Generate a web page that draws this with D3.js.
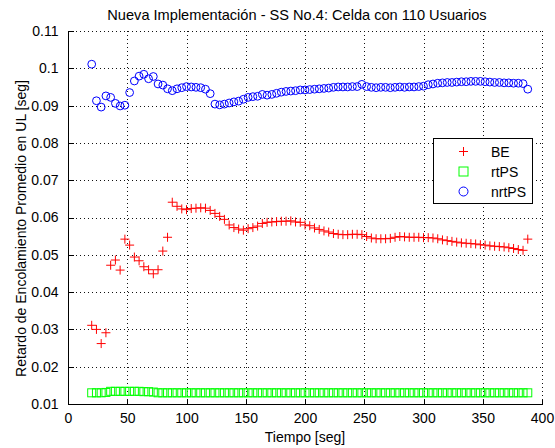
<!DOCTYPE html>
<html>
<head>
<meta charset="utf-8">
<script src="https://cdn.jsdelivr.net/npm/d3@7"></script>
<style>
  body { margin: 0; background: #fff; }
  text { font-family: "Liberation Sans", Arial, Helvetica, sans-serif; }
</style>
</head>
<body>
<svg id="chart" width="555" height="448"></svg>
<script>
// Tiempo de simulación [seg]
const tiempo = [
  20, 24, 28, 32, 36, 40, 44, 48, 52, 56, 60, 64, 68, 72, 76, 80, 84, 88, 92, 96,
  100, 104, 108, 112, 116, 120, 124, 128, 132, 136, 140, 144, 148, 152, 156, 160,
  164, 168, 172, 176, 180, 184, 188, 192, 196, 200, 204, 208, 212, 216, 220, 224,
  228, 232, 236, 240, 244, 248, 252, 256, 260, 264, 268, 272, 276, 280, 284, 288,
  292, 296, 300, 304, 308, 312, 316, 320, 324, 328, 332, 336, 340, 344, 348, 352,
  356, 360, 364, 368, 372, 376, 380, 384, 388
];

// Retardo promedio de encolamiento en UL [seg] por clase de servicio
const retardoBE = [
  0.0311, 0.0300, 0.0262, 0.0291, 0.0472, 0.0486, 0.0459, 0.0542, 0.0526, 0.0494,
  0.0484, 0.0468, 0.0460, 0.0449, 0.0460, 0.0510, 0.0547, 0.0641, 0.0630, 0.0623,
  0.0621, 0.0624, 0.0625, 0.0626, 0.0625, 0.0619, 0.0611, 0.0603, 0.0595, 0.0580,
  0.0573, 0.0569, 0.0566, 0.0570, 0.0573, 0.0577, 0.0584, 0.0587, 0.0588, 0.0589,
  0.0590, 0.0590, 0.0591, 0.0588, 0.0587, 0.0580, 0.0578, 0.0572, 0.0568, 0.0564,
  0.0561, 0.0557, 0.0555, 0.0554, 0.0554, 0.0555, 0.0555, 0.0554, 0.0549, 0.0545,
  0.0543, 0.0543, 0.0543, 0.0544, 0.0547, 0.0549, 0.0548, 0.0547, 0.0547, 0.0547,
  0.0546, 0.0546, 0.0545, 0.0543, 0.0540, 0.0538, 0.0536, 0.0534, 0.0532, 0.0531,
  0.0530, 0.0529, 0.0527, 0.0526, 0.0524, 0.0523, 0.0522, 0.0521, 0.0519, 0.0517,
  0.0514, 0.0512, 0.0542
];

const retardoRtPS = [
  0.0130, 0.0130, 0.0130, 0.0131, 0.0134, 0.0134, 0.0134, 0.0134, 0.0134, 0.0134,
  0.0134, 0.0133, 0.0133, 0.0132, 0.0130, 0.0130, 0.0130, 0.0130, 0.0130, 0.0130,
  0.0130, 0.0130, 0.0130, 0.0130, 0.0130, 0.0130, 0.0130, 0.0130, 0.0130, 0.0130,
  0.0130, 0.0130, 0.0130, 0.0130, 0.0130, 0.0130, 0.0130, 0.0130, 0.0130, 0.0130,
  0.0130, 0.0130, 0.0130, 0.0130, 0.0130, 0.0130, 0.0130, 0.0130, 0.0130, 0.0130,
  0.0130, 0.0130, 0.0130, 0.0130, 0.0130, 0.0130, 0.0130, 0.0130, 0.0130, 0.0130,
  0.0130, 0.0130, 0.0130, 0.0130, 0.0130, 0.0130, 0.0130, 0.0130, 0.0130, 0.0130,
  0.0130, 0.0130, 0.0130, 0.0130, 0.0130, 0.0130, 0.0130, 0.0130, 0.0130, 0.0130,
  0.0130, 0.0130, 0.0130, 0.0130, 0.0130, 0.0130, 0.0130, 0.0130, 0.0130, 0.0130,
  0.0130, 0.0130, 0.0130
];

const retardoNrtPS = [
  0.1011, 0.0913, 0.0896, 0.0926, 0.0922, 0.0906, 0.0899, 0.0901, 0.0935, 0.0966,
  0.0979, 0.0984, 0.0972, 0.0978, 0.0958, 0.0955, 0.0945, 0.0940, 0.0945, 0.0948,
  0.0951, 0.0950, 0.0949, 0.0948, 0.0944, 0.0932, 0.0904, 0.0902, 0.0904, 0.0907,
  0.0910, 0.0912, 0.0917, 0.0922, 0.0924, 0.0925, 0.0930, 0.0928, 0.0930, 0.0933,
  0.0936, 0.0938, 0.0939, 0.0940, 0.0942, 0.0942, 0.0943, 0.0944, 0.0945, 0.0946,
  0.0947, 0.0949, 0.0950, 0.0950, 0.0950, 0.0951, 0.0951, 0.0957, 0.0951, 0.0949,
  0.0948, 0.0949, 0.0949, 0.0948, 0.0949, 0.0950, 0.0949, 0.0950, 0.0950, 0.0951,
  0.0952, 0.0956, 0.0958, 0.0960, 0.0961, 0.0962, 0.0962, 0.0963, 0.0964, 0.0964,
  0.0965, 0.0965, 0.0965, 0.0964, 0.0963, 0.0962, 0.0962, 0.0961, 0.0961, 0.0960,
  0.0960, 0.0959, 0.0944
];

const xTicks = [0, 50, 100, 150, 200, 250, 300, 350, 400];
const yTicks = [0.01, 0.02, 0.03, 0.04, 0.05, 0.06, 0.07, 0.08, 0.09, 0.1, 0.11];
const yTickLabels = ["0.01", "0.02", "0.03", "0.04", "0.05", "0.06", "0.07", "0.08", "0.09", "0.1", "0.11"];
const seriesNames = ["BE", "rtPS", "nrtPS"];
const seriesColors = ["#ff0000", "#00ff00", "#0000ff"];

const titulo = "Nueva Implementación - SS No.4: Celda con 110 Usuarios";
const etiquetaX = "Tiempo [seg]";
const etiquetaY = "Retardo de Encolamiento Promedio en UL [seg]";

// Layout
const plot = { left: 68, right: 542, top: 31, bottom: 404 };
const FONT = 14;
const FAMILY = "Liberation Sans, Arial, sans-serif";

const svg = d3.select("#chart");

const x = d3.scaleLinear().domain([0, 400]).range([plot.left, plot.right]);
const y = d3.scaleLinear().domain([0.01, 0.11]).range([plot.bottom, plot.top]);

// Dotted grid (also closes the top and right sides of the axes)
const grid = svg.append("g").attr("stroke", "#111").attr("stroke-width", 1)
  .attr("stroke-dasharray", "1,3").attr("shape-rendering", "crispEdges");
grid.selectAll("line.gx").data(xTicks.slice(1)).join("line")
  .attr("x1", d => Math.round(x(d)) + 0.5).attr("x2", d => Math.round(x(d)) + 0.5)
  .attr("y1", plot.top).attr("y2", plot.bottom);
grid.selectAll("line.gy").data(yTicks.slice(1)).join("line")
  .attr("y1", d => Math.round(y(d)) + 0.5).attr("y2", d => Math.round(y(d)) + 0.5)
  .attr("x1", plot.left).attr("x2", plot.right);

// Axes with inward ticks
const xAxis = d3.axisBottom(x).tickValues(xTicks).tickSize(-5).tickPadding(9)
  .tickFormat(d3.format("d"));
const yAxis = d3.axisLeft(y).tickValues(yTicks).tickSize(-5).tickPadding(10)
  .tickFormat((d, i) => yTickLabels[i]);

const gx = svg.append("g").attr("transform", `translate(0,${plot.bottom + 0.5})`).call(xAxis);
const gy = svg.append("g").attr("transform", `translate(${plot.left + 0.5},0)`).call(yAxis);
[gx, gy].forEach(g => {
  g.selectAll("path.domain").attr("stroke", "#000").attr("shape-rendering", "crispEdges");
  g.selectAll(".tick line").attr("stroke", "#000").attr("shape-rendering", "crispEdges");
  g.selectAll("text").attr("font-size", FONT).attr("fill", "#000").attr("font-family", FAMILY);
});
gx.select("path.domain").attr("d", `M${plot.left},0H${plot.right}`);
gy.select("path.domain").attr("d", `M0,${plot.bottom}V${plot.top}`);

// Markers
const plusPath = "M-4.5,0H4.5M0,-4.5V4.5";

const datos = tiempo.map((t, i) => ({ t, be: retardoBE[i], rt: retardoRtPS[i], nrt: retardoNrtPS[i] }));

const marks = svg.append("g");

marks.append("g").selectAll("rect").data(datos).join("rect")
  .attr("x", d => x(d.t) - 4).attr("y", d => y(d.rt) - 4)
  .attr("width", 8).attr("height", 8)
  .attr("fill", "none").attr("stroke", seriesColors[1]).attr("stroke-width", 1);

marks.append("g").selectAll("circle").data(datos).join("circle")
  .attr("cx", d => x(d.t)).attr("cy", d => y(d.nrt)).attr("r", 3.9)
  .attr("fill", "none").attr("stroke", seriesColors[2]).attr("stroke-width", 1);

marks.append("g").selectAll("path").data(datos).join("path")
  .attr("transform", d => `translate(${x(d.t)},${y(d.be)})`)
  .attr("d", plusPath)
  .attr("fill", "none").attr("stroke", seriesColors[0]).attr("stroke-width", 1);

// Legend
const legBox = { x: 433, y: 138, w: 99, h: 65 };
svg.append("rect").attr("x", legBox.x + 0.5).attr("y", legBox.y + 0.5)
  .attr("width", legBox.w).attr("height", legBox.h)
  .attr("fill", "#fff").attr("stroke", "#000").attr("stroke-width", 1)
  .attr("shape-rendering", "crispEdges");
const rowY = [151.5, 171.5, 191.5];
const markX = 463.5;
seriesNames.forEach((name, i) => {
  const cy = rowY[i];
  if (i === 0) {
    svg.append("path").attr("transform", `translate(${markX},${cy})`).attr("d", plusPath)
      .attr("stroke", seriesColors[0]).attr("stroke-width", 1).attr("fill", "none");
  } else if (i === 1) {
    svg.append("rect").attr("x", markX - 4.5).attr("y", cy - 4.5).attr("width", 9).attr("height", 9)
      .attr("stroke", seriesColors[1]).attr("stroke-width", 1).attr("fill", "none");
  } else {
    svg.append("circle").attr("cx", markX).attr("cy", cy).attr("r", 4.5)
      .attr("stroke", seriesColors[2]).attr("stroke-width", 1).attr("fill", "none");
  }
  svg.append("text").attr("x", 491).attr("y", cy).attr("dy", "0.36em")
    .attr("font-size", FONT).attr("font-family", FAMILY).text(name);
});

// Title and axis labels
svg.append("text").attr("x", 297).attr("y", 20)
  .attr("text-anchor", "middle").attr("font-size", 14.6).attr("font-family", FAMILY).text(titulo);
svg.append("text").attr("x", (plot.left + plot.right) / 2).attr("y", 442)
  .attr("text-anchor", "middle").attr("font-size", FONT).attr("font-family", FAMILY).text(etiquetaX);
svg.append("text").attr("transform", `translate(26,${(plot.top + plot.bottom) / 2 + 11}) rotate(-90)`)
  .attr("text-anchor", "middle").attr("font-size", FONT).attr("font-family", FAMILY).text(etiquetaY);
</script>
</body>
</html>
